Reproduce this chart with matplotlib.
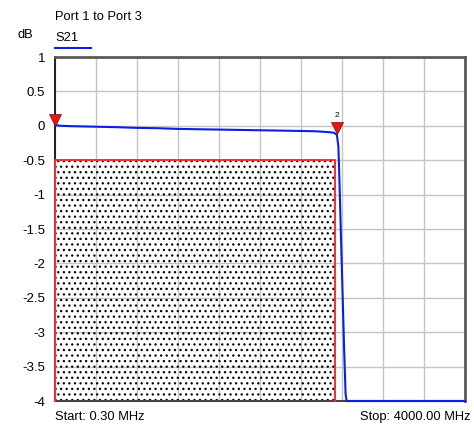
import matplotlib
matplotlib.use('Agg')
import matplotlib.pyplot as plt
from matplotlib.patches import Rectangle

plt.rcParams['font.family'] = ['Liberation Sans', 'DejaVu Sans']
plt.rcParams['hatch.linewidth'] = 0.9

# trace (MHz, dB)
freq = [0.3, 60, 150, 300, 450, 600, 800, 1000, 1200, 1400, 1600, 1800,
        2000, 2200, 2400, 2550, 2650, 2720, 2750, 2765, 2775, 2790,
        2805, 2820, 2835, 2845, 3000, 3500, 4000]
s21 = [0.01, 0.0, -0.005, -0.01, -0.015, -0.02, -0.03, -0.035, -0.045,
       -0.05, -0.055, -0.06, -0.065, -0.07, -0.075, -0.08, -0.09, -0.1,
       -0.13, -0.3, -0.8, -1.6, -2.4, -3.2, -3.9, -4.0, -4.0, -4.0, -4.0]

# markers
mk_freq = [0.3, 2750]
mk_val = [0.0, -0.12]
mk_labels = ['', '2']

# limit mask
mask_start = 0.3
mask_stop = 2735
mask_level = -0.5

f_start = 0.3
f_stop = 4000.0
yticks = [1, 0.5, 0, -0.5, -1, -1.5, -2, -2.5, -3, -3.5, -4]
ytick_labels = ['1', '0.5', '0', '-0.5', '-1', '-1.5', '-2', '-2.5', '-3', '-3.5', '-4']

fig = plt.figure(figsize=(4.74, 4.28), dpi=100)
ax = fig.add_axes([55 / 474, 1 - 401 / 428, 410 / 474, 344 / 428])

ax.set_xlim(f_start, f_stop)
ax.set_ylim(-4, 1)
step = (f_stop - f_start) / 10
ax.set_xticks([f_start + i * step for i in range(11)])
ax.set_xticklabels([])
ax.set_yticks(yticks)
ax.set_yticklabels(ytick_labels, fontsize=9.5)
ax.tick_params(length=0, pad=7)
ax.grid(True, color='#c4c4c4', linewidth=1)
ax.set_axisbelow(True)

for s in ['top', 'right']:
    ax.spines[s].set_color('#5a5a5a')
    ax.spines[s].set_linewidth(2)
ax.spines['left'].set_color('black')
ax.spines['left'].set_linewidth(1.2)
ax.spines['bottom'].set_color('#444444')
ax.spines['bottom'].set_linewidth(1.5)

# dotted mask area
ax.add_patch(Rectangle((mask_start, -4), mask_stop - mask_start, mask_level + 4,
                       facecolor='none', edgecolor='black', hatch='...',
                       linewidth=0, zorder=2))
ax.plot([mask_start, mask_start, mask_stop, mask_stop], [-4, mask_level, mask_level, -4],
        color='#f03030', linewidth=1.4, zorder=3, clip_on=False)

ax.plot(freq, s21, color='#0a1ee6', linewidth=1.5, zorder=4, clip_on=False)

for f, v, lab in zip(mk_freq, mk_val, mk_labels):
    ax.plot(f, v + 0.09, marker='v', markersize=8, color='#ee1111',
            markeredgecolor='#661111', markeredgewidth=0.5, zorder=5, clip_on=False)
    if lab:
        ax.text(f, v + 0.22, lab, fontsize=6, ha='center', va='bottom')

fig.text(18 / 474, 1 - 35 / 428, 'dB', fontsize=9.3, ha='left', va='center')
fig.text(55 / 474, 1 - 17 / 428, 'Port 1 to Port 3', fontsize=9.3, ha='left', va='center')
fig.text(55 / 474, 1 - 38 / 428, 'S21', fontsize=9.3, ha='left', va='center')
fig.add_artist(plt.Line2D([55 / 474, 91 / 474], [1 - 48 / 428, 1 - 48 / 428],
                          color='#0a1ee6', linewidth=1.5))
fig.text(55 / 474, 1 - 417 / 428, 'Start: 0.30 MHz', fontsize=9.3, ha='left', va='center')
fig.text(470 / 474, 1 - 417 / 428, 'Stop: 4000.00 MHz', fontsize=9.3, ha='right', va='center')

fig.savefig('out.png', dpi=100)
